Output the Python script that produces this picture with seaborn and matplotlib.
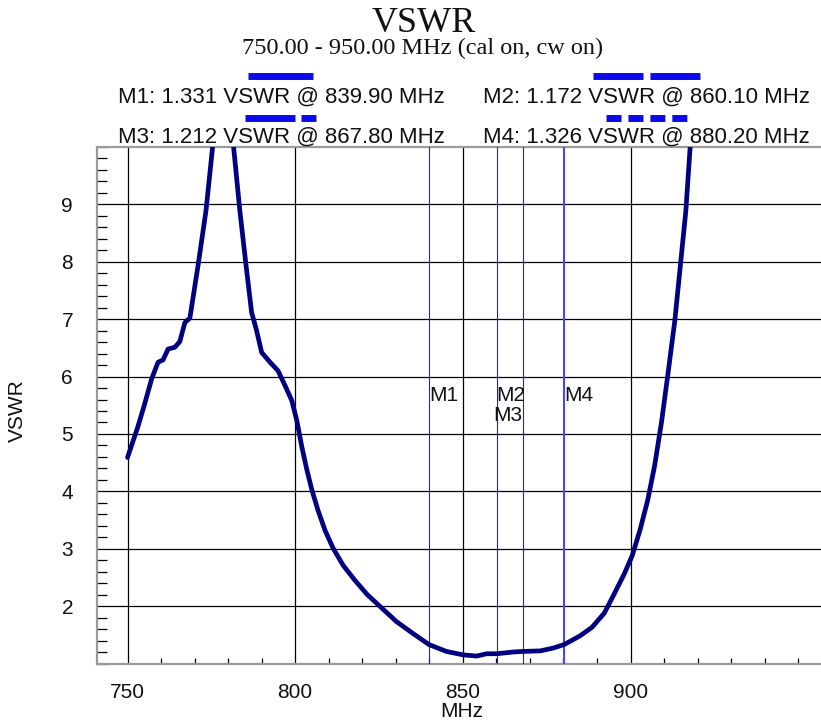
import matplotlib
matplotlib.use("Agg")
import matplotlib.pyplot as plt
import seaborn as sns
import pandas as pd
from matplotlib.lines import Line2D
from matplotlib.ticker import FixedLocator, MultipleLocator

# ---------------- data ----------------
freq_mhz = [750, 753, 755, 757.2, 759.1, 760.6, 762.1, 764.1, 765.6, 767.1, 768.6,
            771.1, 773.4, 775.3, 777.0, 778.5, 780.0, 781.7, 783.5, 785.3, 787.0,
            788.5, 790.0, 792.5, 794.9, 797.0, 799.0, 800.5, 802.0, 803.5, 805.0,
            806.8, 808.9, 811.3, 814.3, 817.8, 821.5, 825.2, 830.2, 835.2, 839.9,
            845.1, 850.1, 854.1, 857.1, 860.1, 865.0, 867.8, 873.1, 877.0, 880.2,
            884.9, 888.5, 892.2, 895.2, 898.2, 900.5, 902.8, 905.1, 907.2, 909.3,
            911.1, 913.2, 914.7, 916.5, 917.7, 919.5, 921.0]
vswr = [4.59, 5.11, 5.50, 5.96, 6.25, 6.29, 6.48, 6.51, 6.61, 6.94, 7.02,
        7.96, 8.89, 9.96, 11.6, 12.4, 11.5, 9.96, 8.89, 7.96, 7.12,
        6.80, 6.42, 6.25, 6.10, 5.84, 5.58, 5.23, 4.77, 4.37, 4.02,
        3.67, 3.32, 3.01, 2.71, 2.45, 2.20, 2.00, 1.73, 1.52, 1.33,
        1.21, 1.15, 1.13, 1.17, 1.17, 1.20, 1.21, 1.22, 1.27, 1.33,
        1.48, 1.63, 1.88, 2.22, 2.57, 2.88, 3.32, 3.84, 4.45, 5.23,
        6.02, 6.97, 7.84, 8.89, 9.93, 11.2, 12.3]

marker_names = ["M1", "M2", "M3", "M4"]
marker_freqs = [839.90, 860.10, 867.80, 880.20]
marker_vswr = [1.331, 1.172, 1.212, 1.326]

x_major = [750, 800, 850, 900]
x_minor = [760, 770, 780, 790, 810, 820, 830, 840, 860, 870, 880, 890, 910, 920, 930, 940, 950]
y_major = [2, 3, 4, 5, 6, 7, 8, 9]

title = "VSWR"
subtitle = "750.00 - 950.00 MHz (cal on, cw on)"

# ---------------- style ----------------
sns.set_theme(style="white")
plt.rcParams["font.family"] = ["Liberation Sans", "DejaVu Sans"]
plt.rcParams["lines.scale_dashes"] = False

W, H = 821, 722
fig = plt.figure(figsize=(W / 100, H / 100), dpi=100)
left_px, right_px, top_px, bot_px = 97, 821, 147, 663.5
ax = fig.add_axes([left_px / W, 1 - bot_px / H, (right_px - left_px) / W, (bot_px - top_px) / H])

df = pd.DataFrame({"MHz": freq_mhz, "VSWR": vswr})
sns.lineplot(data=df, x="MHz", y="VSWR", ax=ax, color="#000080", lw=3.4, sort=False, zorder=5)

ax.set_xlim(740.9, 956.8)
ax.set_ylim(1, 10)

# grid
ax.xaxis.set_major_locator(FixedLocator(x_major))
ax.xaxis.set_minor_locator(FixedLocator(x_minor))
ax.yaxis.set_major_locator(FixedLocator(y_major))
ax.yaxis.set_minor_locator(MultipleLocator(0.2))
ax.grid(True, which="major", color="black", lw=0.9)

ax.tick_params(axis="x", which="major", direction="out", length=11.5, width=0.9, color="black",
               labelsize=15, pad=2.5, labelcolor="#111111")
ax.tick_params(axis="y", which="major", direction="out", length=7.2, width=0.9, color="black",
               labelsize=15, pad=10, labelcolor="#111111")
ax.tick_params(axis="x", which="minor", direction="in", length=4.3, width=0.9, color="black", bottom=True)
ax.tick_params(axis="y", which="minor", direction="in", length=7.2, width=0.9, color="black", left=True)

for side in ["left", "bottom", "top"]:
    ax.spines[side].set_color("#9a9a9a")
    ax.spines[side].set_linewidth(1.6)
ax.spines["right"].set_visible(False)

ax.set_xlabel("MHz", fontsize=15, color="#111111")
ax.set_ylabel("VSWR", fontsize=15, color="#111111")
ax.xaxis.set_label_coords(0.504, -0.075)
ax.yaxis.set_label_coords(-0.097, 0.49)

# marker lines
marker_colors = ["#1a1aff", "#1a1aff", "#1a1aff", "#4646ff"]
marker_lw = [0.8, 0.8, 0.8, 1.5]
for f, c, lw in zip(marker_freqs, marker_colors, marker_lw):
    ax.axvline(f, color=c, lw=lw, zorder=4)

label_y = [5.67, 5.67, 5.32, 5.67]
label_ha = ["left", "left", "right", "left"]
for name, f, yy, ha in zip(marker_names, marker_freqs, label_y, label_ha):
    ax.text(f, yy, name, ha=ha, va="center", fontsize=15, color="#111111", zorder=6)

# titles
fig.text(424 / W, 1 - 32 / H, title, ha="center", va="baseline",
         fontsize=26, family="Liberation Serif", color="#111111")
fig.text(423 / W, 1 - 54 / H, subtitle, ha="center", va="baseline",
         fontsize=17.5, family="Liberation Serif", color="#111111")

# marker readouts with line samples
readout_pos = [(281, 103), (646.5, 103), (281, 143), (646.5, 143)]
sample_pos = [(248, 313, 76), (593, 700, 76), (244.5, 317, 117.5), (606, 687, 117.5)]
sample_ls = ["-", (0, (36, 5)), (0, (36, 4.3, 10.8, 4.3)), (0, (10.8, 5))]
for name, f, v, (tx, ty), (x0, x1, yy), ls in zip(marker_names, marker_freqs, marker_vswr,
                                                   readout_pos, sample_pos, sample_ls):
    fig.text(tx / W, 1 - ty / H, f"{name}: {v:.3f} VSWR @ {f:.2f} MHz", ha="center",
             va="baseline", fontsize=16, color="#111111")
    fig.add_artist(Line2D([x0 / W, x1 / W], [1 - yy / H, 1 - yy / H], transform=fig.transFigure,
                          lw=5.0, color="#0a0aeb", ls=ls, solid_capstyle="butt",
                          dash_capstyle="butt"))

fig.savefig("out.png", dpi=100)
